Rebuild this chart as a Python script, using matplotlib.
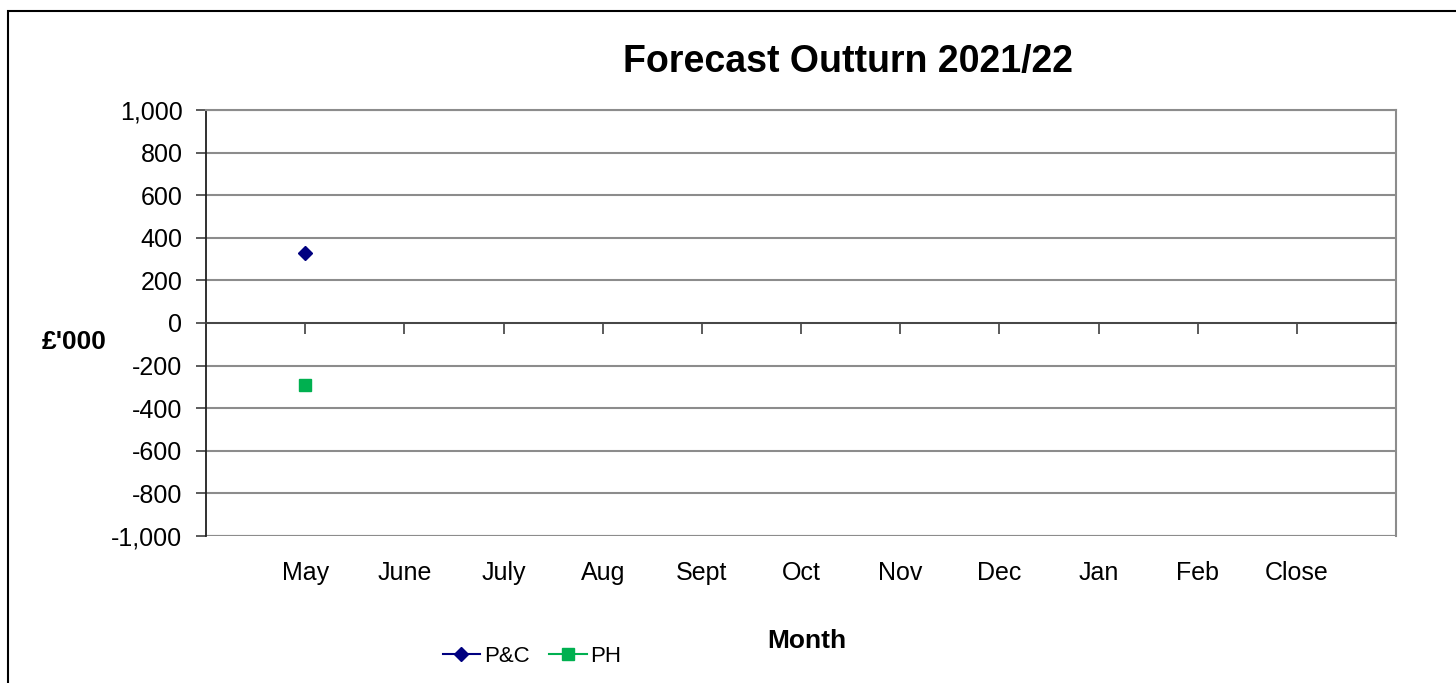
import matplotlib
matplotlib.use("Agg")
import matplotlib.pyplot as plt
from matplotlib.patches import Rectangle

plt.rcParams["font.family"] = ["Liberation Sans", "DejaVu Sans"]

# ─── data ────────────────────────────────────────────────────────────────
months = ["May", "June", "July", "Aug", "Sept", "Oct", "Nov", "Dec", "Jan", "Feb", "Close"]
pc_vals = [330]      # P&C, only May reported so far
ph_vals = [-290]     # PH
y_ticks = list(range(-1000, 1001, 200))

x = list(range(1, len(months) + 1))

fig = plt.figure(figsize=(14.56, 6.83), dpi=100)
ax = fig.add_axes([206 / 1456, 1 - 536 / 683, 1190 / 1456, 426 / 683])

# outer chart border (runs off right/bottom like the source)
fig.patches.append(Rectangle((8 / 1456, -0.1), 1.2, 1 - 11 / 683 + 0.1,
                             transform=fig.transFigure, fill=False,
                             edgecolor="black", lw=1.5))

ax.plot(x[:len(pc_vals)], pc_vals, color="#000080", marker="D", ms=7, lw=1.5, label="P&C")
ax.plot(x[:len(ph_vals)], ph_vals, color="#00B050", marker="s", ms=8, lw=1.5, label="PH")

ax.set_xlim(0, len(months) + 1)
ax.set_ylim(-1000, 1000)
ax.set_yticks(y_ticks)
ax.set_yticklabels([f"{v:,}" for v in y_ticks], fontsize=18)
ax.yaxis.grid(True, color="#8c8c8c", lw=1.5)
ax.set_axisbelow(True)
ax.tick_params(axis="y", length=7, width=1.2, color="#404040", pad=10)

for s in ["top", "right"]:
    ax.spines[s].set_color("#8c8c8c")
    ax.spines[s].set_linewidth(1.5)
ax.spines["left"].set_color("#202020")
ax.spines["left"].set_linewidth(1.3)

# category axis sits on the zero line, ticks hang down
ax.spines["bottom"].set_position(("data", 0))
ax.spines["bottom"].set_color("#404040")
ax.spines["bottom"].set_linewidth(1.3)
ax.set_xticks(list(range(1, len(months) + 2)))
ax.tick_params(axis="x", direction="out", length=8, width=1.2, color="#404040", labelbottom=False)
ax.axhline(-1000, color="#8c8c8c", lw=1.5, zorder=0)

# month labels below the plot area
sec = ax.secondary_xaxis(0.0)
sec.set_xticks(x)
sec.set_xticklabels(months, fontsize=18)
sec.tick_params(length=0, pad=18)
sec.spines["bottom"].set_visible(False)

fig.text(848 / 1456, 1 - 62 / 683, "Forecast Outturn 2021/22", fontsize=27,
         fontweight="bold", ha="center", va="center")
fig.text(74 / 1456, 1 - 342 / 683, "£'000", fontsize=19, fontweight="bold",
         ha="center", va="center")
fig.text(807 / 1456, 1 - 641 / 683, "Month", fontsize=19, fontweight="bold",
         ha="center", va="center")

fig.legend(loc="center", bbox_to_anchor=(532 / 1456, 1 - 656 / 683), ncol=2,
           frameon=False, fontsize=16, handlelength=1.7, handletextpad=0.15,
           columnspacing=0.9, markerscale=1.0)

plt.savefig("out.png", dpi=100, facecolor="white")
